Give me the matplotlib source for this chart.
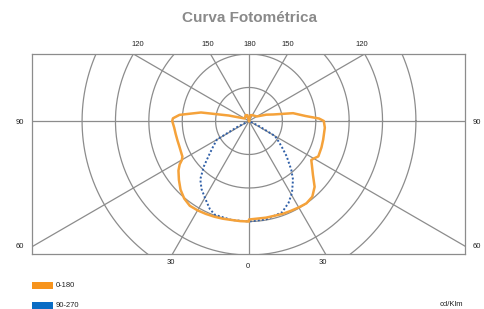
import numpy as np
import matplotlib
matplotlib.use("Agg")
import matplotlib.pyplot as plt
from matplotlib.patches import Rectangle

plt.rcParams["font.family"] = ["Liberation Sans", "DejaVu Sans"]

W, H = 485, 309
ORANGE = "#F5A23A"
ORANGE_LEG = "#F7941D"
BLUE = "#2F5FA8"
BLUE_LEG = "#0A6CC4"
GRID = "#8C8C8C"

# photometric data: angle from nadir (deg) -> intensity (grid units)
ang_c0 = [0, 10, 15, 20, 25, 30, 35, 40, 45, 50, 55, 58, 60, 63, 70, 76, 85,
          90, 92, 95, 100, 105, 110, 120, 150, 165, 180]
c0 = [2.94, 2.93, 2.93, 2.95, 2.96, 2.98, 3.0, 2.95, 2.78, 2.5, 2.3, 2.2,
      2.24, 2.33, 2.31, 2.29, 2.28, 2.24, 2.1, 1.7, 1.34, 0.75, 0.55, 0.27,
      0.2, 0.18, 0.0]
ang_c180 = [0, 5, 10, 15, 20, 25, 30, 35, 40, 45, 50, 55, 58, 60, 62, 65, 70,
            75, 80, 85, 90, 92, 95, 100, 105, 110, 120, 150, 165, 180]
c180 = [3.0, 3.0, 3.0, 3.02, 3.04, 3.06, 3.08, 3.09, 3.02, 2.9, 2.74, 2.58,
        2.45, 2.32, 2.26, 2.24, 2.22, 2.22, 2.23, 2.25, 2.3, 2.28, 2.09, 1.46,
        0.63, 0.3, 0.15, 0.2, 0.18, 0.0]
ang_c90 = [0, 10, 20, 26, 31, 37, 41, 47, 52, 56, 60, 63, 66]
c90 = [3.0, 2.98, 2.9, 2.71, 2.5, 2.19, 1.93, 1.54, 1.24, 1.05, 0.9, 0.35, 0.0]
ang_c270 = [0, 10, 20, 24, 29, 35, 40, 45, 50, 55, 60, 63, 66]
c270 = [3.0, 3.0, 2.98, 2.88, 2.68, 2.48, 2.27, 1.91, 1.55, 1.3, 1.11, 0.4, 0.0]

ring_radii = [1, 2, 3, 4, 5]
ray_angles = list(range(0, 360, 30))
top_labels = ["120", "150", "180", "150", "120"]
side_labels = ["90", "60"]
bottom_labels = ["30", "0", "30"]
legend_labels = ["0-180", "90-270"]
unit_label = "cd/Klm"


def px(x, y):
    return x / W, 1 - y / H


def polar_xy(angles, vals, side):
    t = np.radians(np.asarray(angles, float))
    r = np.asarray(vals, float)
    return side * r * np.sin(t), -r * np.cos(t)


fig = plt.figure(figsize=(W / 100, H / 100), dpi=100)
x0, y0 = px(32, 254)
x1, y1 = px(465, 54.3)
ax = fig.add_axes([x0, y0, x1 - x0, y1 - y0])
ax.set_xlim(-6.5, 6.47)
ax.set_ylim(-3.97, 1.99)
ax.set_xticks([]); ax.set_yticks([])
for s in ax.spines.values():
    s.set_color(GRID); s.set_linewidth(0.9)

# grid: rings and rays
th = np.linspace(0, 2 * np.pi, 400)
for r in ring_radii:
    ax.plot(r * np.cos(th), r * np.sin(th), color=GRID, lw=0.9, zorder=1)
for a in ray_angles:
    t = np.radians(a)
    ax.plot([0, 12 * np.sin(t)], [0, -12 * np.cos(t)], color=GRID, lw=0.9,
            zorder=1)

# curves
bx_r, by_r = polar_xy(ang_c90, c90, 1)
bx_l, by_l = polar_xy(ang_c270, c270, -1)
ax.plot(np.concatenate([bx_l[::-1], bx_r]), np.concatenate([by_l[::-1], by_r]),
        color=BLUE, lw=1.4, ls=(0, (1, 1.1)), zorder=2)
ox_r, oy_r = polar_xy(ang_c0, c0, 1)
ox_l, oy_l = polar_xy(ang_c180, c180, -1)
ax.plot(np.concatenate([ox_l[::-1], ox_r]), np.concatenate([oy_l[::-1], oy_r]),
        color=ORANGE, lw=1.8, zorder=3)

# title
fig.text(*px(250, 18), "Curva Fotométrica", ha="center", va="center",
         fontsize=11, fontweight="bold", color="#8A8A8A")

# angle labels
lab = dict(ha="center", va="center", fontsize=5.5, color="#222222")
for x, s in zip([138, 208, 250, 288, 362], top_labels):
    fig.text(*px(x, 45), s, **lab)
for y, s in zip([122, 246], side_labels):
    fig.text(*px(20, y), s, **lab)
    fig.text(*px(477, y), s, **lab)
for x, y, s in zip([171, 248, 323], [263, 266, 263], bottom_labels):
    fig.text(*px(x, y), s, **lab)

# legend
for yc, col, s in zip([285.5, 305.5], [ORANGE_LEG, BLUE_LEG], legend_labels):
    lx, ly = px(32, yc + 3.8)
    fig.add_artist(Rectangle((lx, ly), 21 / W, 7.6 / H, transform=fig.transFigure,
                             facecolor=col, edgecolor="none"))
    fig.text(*px(56, yc), s, ha="left", va="center", fontsize=5.5,
             color="#222222")
fig.text(*px(451, 304), unit_label, ha="center", va="center", fontsize=5.5,
         color="#222222")

fig.savefig("out.png", dpi=100)
